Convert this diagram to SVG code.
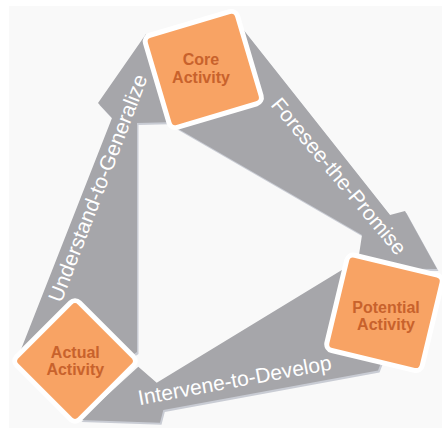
<svg xmlns="http://www.w3.org/2000/svg" width="442" height="430" viewBox="0 0 442 430">
<style>
.arrow{fill:#a6a6aa}
.shadow{fill:#c9ccd4}
.box{fill:#f8a364;stroke:#ffffff;stroke-width:10;paint-order:stroke fill;stroke-linejoin:round}
.boxlabel{font-family:"Liberation Sans",Arial,sans-serif;font-weight:bold;font-size:16px;fill:#c8622c;text-anchor:middle}
.arrowlabel{font-family:"Liberation Sans",Arial,sans-serif;font-size:21px;fill:#ffffff;text-anchor:middle}
</style>
<rect x="9" y="6" width="433" height="422" fill="#f9f9f9"/>
<g id="connectors">
  <g id="understand-to-generalize">
    <polygon class="shadow" transform="translate(1.5,2)" points="146,34 98,103 112,118 20.8,350 75,345 128,358 137,352 137,123 178,122"/>
    <polygon class="arrow" points="146,34 98,103 112,118 20.8,350 75,345 128,358 137,352 137,123 178,122"/>
    <text class="arrowlabel" transform="translate(104.5,190.7) rotate(-69)">Understand-to-Generalize</text>
  </g>
  <g id="foresee-the-promise">
    <polygon class="shadow" transform="translate(1.5,2)" points="240,25.6 390,215 405,211 437,269 357,268 362,235 175,127"/>
    <polygon class="arrow" points="240,25.6 390,215 405,211 437,269 357,268 362,235 175,127"/>
    <text class="arrowlabel" transform="translate(333.3,180.8) rotate(50)">Foresee-the-Promise</text>
  </g>
  <g id="intervene-to-develop">
    <polygon class="shadow" transform="translate(1.5,2)" points="355,262 156.7,382.7 138.3,366.7 80,420 160,422.7 163.3,410 378,370.5 386,350"/>
    <polygon class="arrow" points="355,262 156.7,382.7 138.3,366.7 80,420 160,422.7 163.3,410 378,370.5 386,350"/>
    <text class="arrowlabel" transform="translate(236,387.3) rotate(-10.5)">Intervene-to-Develop</text>
  </g>
</g>
<g id="core-activity">
  <rect class="box" x="-45.5" y="-45.5" width="91" height="91" rx="4" transform="translate(203.3,69.5) rotate(-16.5)"/>
  <text class="boxlabel" x="201" y="65.3">Core</text>
  <text class="boxlabel" x="201" y="82.7">Activity</text>
</g>
<g id="potential-activity">
  <rect class="box" x="-46.5" y="-46.5" width="93" height="93" rx="4" transform="translate(384.5,312.8) rotate(13.5)"/>
  <text class="boxlabel" x="386" y="312.7">Potential</text>
  <text class="boxlabel" x="386" y="330">Activity</text>
</g>
<g id="actual-activity">
  <rect class="box" x="-42" y="-42" width="84" height="84" rx="4" transform="translate(75,361) rotate(45)"/>
  <text class="boxlabel" x="75.3" y="357.7">Actual</text>
  <text class="boxlabel" x="75.3" y="375">Activity</text>
</g>
</svg>
